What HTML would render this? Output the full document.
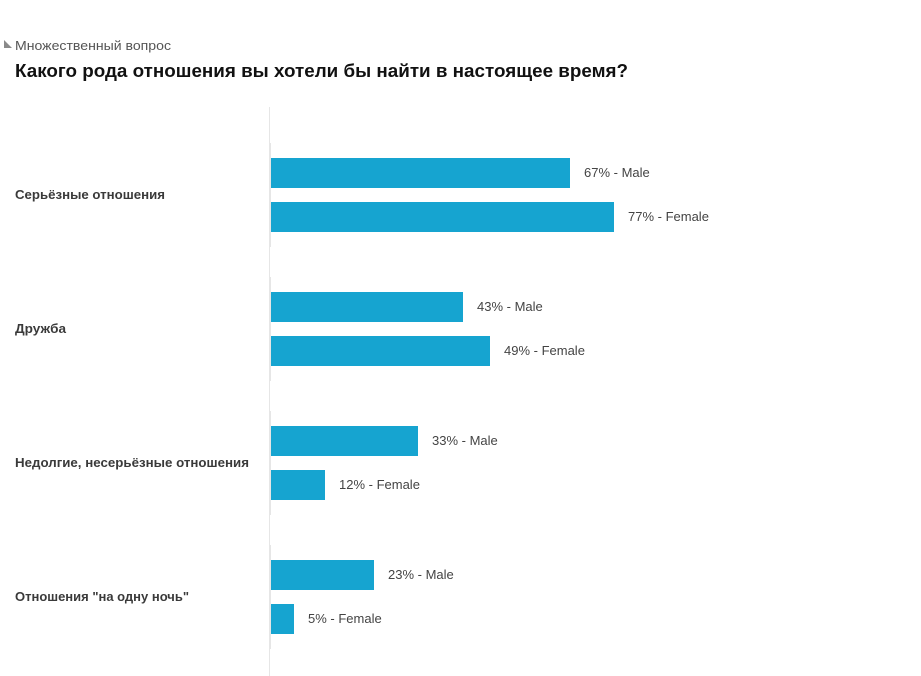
<!DOCTYPE html>
<html>
<head>
<meta charset="utf-8">
<style>
  html, body { margin: 0; padding: 0; background: #ffffff; }
  svg { display: block; }
  text { font-family: "Liberation Sans", "DejaVu Sans", sans-serif; }
</style>
</head>
<body>
<svg width="921" height="676" viewBox="0 0 921 676" xmlns="http://www.w3.org/2000/svg">
  <rect width="921" height="676" fill="#ffffff"/>

  <!-- subtitle with triangle icon -->
  <polygon points="4,40 4,48 12,48" fill="#8a8a8a"/>
  <text x="15" y="50" font-size="13" fill="#555555" textLength="156" lengthAdjust="spacingAndGlyphs">Множественный вопрос</text>

  <!-- title -->
  <text x="15" y="77" font-size="18" font-weight="bold" fill="#111111" textLength="613" lengthAdjust="spacingAndGlyphs">Какого рода отношения вы хотели бы найти в настоящее время?</text>

  <!-- axis line -->
  <rect x="269" y="107" width="1" height="569" fill="#e6e6e6"/>
  <rect x="270" y="143" width="1" height="104" fill="#e6e6e6"/>
  <rect x="270" y="277" width="1" height="104" fill="#e6e6e6"/>
  <rect x="270" y="411" width="1" height="104" fill="#e6e6e6"/>
  <rect x="270" y="545" width="1" height="104" fill="#e6e6e6"/>

  <!-- category labels -->
  <g font-size="13" font-weight="bold" fill="#3a3a3a">
    <text x="15" y="199" textLength="150" lengthAdjust="spacingAndGlyphs">Серьёзные отношения</text>
    <text x="15" y="333" textLength="51" lengthAdjust="spacingAndGlyphs">Дружба</text>
    <text x="15" y="467" textLength="234" lengthAdjust="spacingAndGlyphs">Недолгие, несерьёзные отношения</text>
    <text x="15" y="601" textLength="174" lengthAdjust="spacingAndGlyphs">Отношения "на одну ночь"</text>
  </g>

  <!-- bars -->
  <g fill="#16a4d0">
    <rect x="271" y="158" width="299" height="30"/>
    <rect x="271" y="202" width="343" height="30"/>
    <rect x="271" y="292" width="192" height="30"/>
    <rect x="271" y="336" width="219" height="30"/>
    <rect x="271" y="426" width="147" height="30"/>
    <rect x="271" y="470" width="54" height="30"/>
    <rect x="271" y="560" width="103" height="30"/>
    <rect x="271" y="604" width="23" height="30"/>
  </g>

  <!-- value labels -->
  <g font-size="13" fill="#444444">
    <text x="584" y="177">67% - Male</text>
    <text x="628" y="221">77% - Female</text>
    <text x="477" y="311">43% - Male</text>
    <text x="504" y="355">49% - Female</text>
    <text x="432" y="445">33% - Male</text>
    <text x="339" y="489">12% - Female</text>
    <text x="388" y="579">23% - Male</text>
    <text x="308" y="623">5% - Female</text>
  </g>
</svg>
</body>
</html>
